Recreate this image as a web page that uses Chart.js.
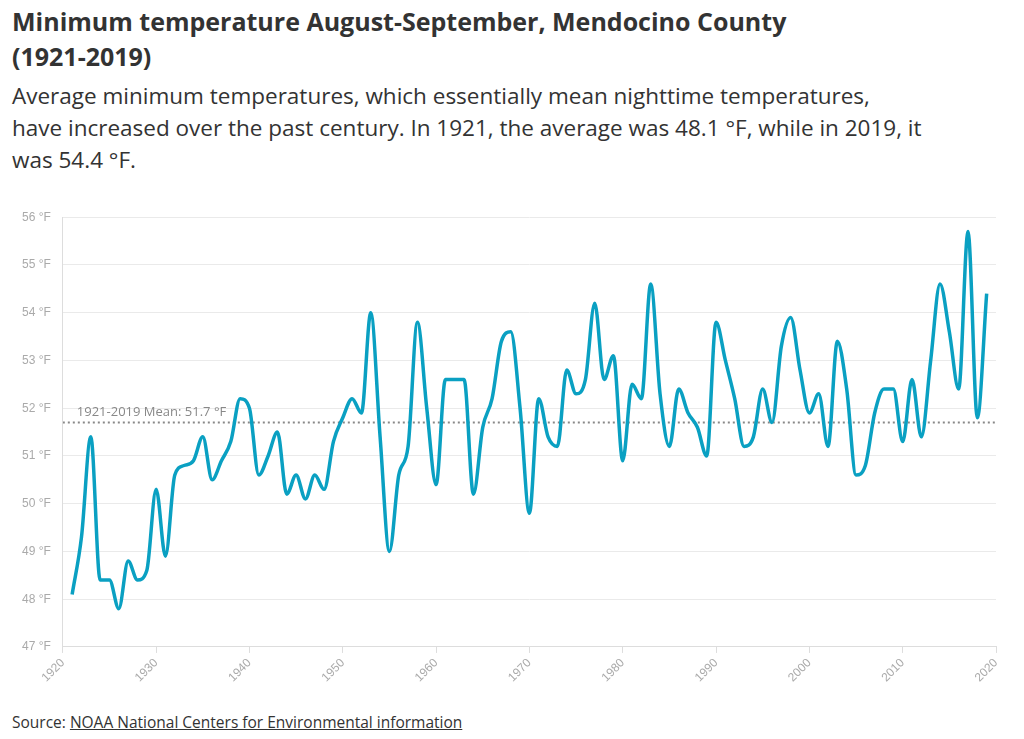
<!DOCTYPE html>
<html>
<head>
<meta charset="utf-8">
<script src="https://cdn.jsdelivr.net/npm/chart.js@4.4.0/dist/chart.umd.min.js"></script>
<style>
  body { margin: 0; background: #fff; font-family: "Open Sans", "Noto Sans", sans-serif; color: #222; }
  #title { position: absolute; left: 12px; top: 4px; width: 1010px; font-size: 25px; font-weight: bold; line-height: 35px; color: #333; white-space: nowrap; }
  #sub { position: absolute; left: 12px; top: 80px; width: 1010px; font-size: 22.5px; line-height: 32px; color: #333; white-space: nowrap; }
  #wrap { position: absolute; left: 0; top: 198px; width: 1010px; height: 490px; }
  #src { position: absolute; left: 12px; top: 711px; font-size: 15.5px; color: #333; }
  #src span { text-decoration: underline; }
</style>
</head>
<body>
<div id="title">Minimum temperature August-September, Mendocino County<br>(1921-2019)</div>
<div id="sub">Average minimum temperatures, which essentially mean nighttime temperatures,<br>have increased over the past century. In 1921, the average was 48.1 °F, while in 2019, it<br>was 54.4 °F.</div>
<div id="wrap"><canvas id="chart"></canvas></div>
<div id="src">Source: <span>NOAA National Centers for Environmental information</span></div>
<script>
// ── Data ──
const years = [];
for (let y = 1921; y <= 2019; y++) years.push(y);
const minTemps = [
  48.1, 49.3, 51.4, 48.4, 48.4, 47.8, 48.8, 48.4, 48.6, 50.3,
  48.9, 50.6, 50.8, 50.9, 51.4, 50.5, 50.9, 51.3, 52.2, 52.0,
  50.6, 51.0, 51.5, 50.2, 50.6, 50.1, 50.6, 50.3, 51.3, 51.8,
  52.2, 51.9, 54.0, 51.4, 49.0, 50.6, 51.2, 53.8, 52.0, 50.4,
  52.6, 52.6, 52.6, 50.2, 51.6, 52.2, 53.4, 53.6, 52.0, 49.8,
  52.2, 51.4, 51.2, 52.8, 52.3, 52.6, 54.2, 52.6, 53.1, 50.9,
  52.5, 52.2, 54.6, 52.3, 51.2, 52.4, 51.9, 51.6, 51.0, 53.8,
  53.0, 52.2, 51.2, 51.4, 52.4, 51.7, 53.3, 53.9, 52.8, 51.9,
  52.3, 51.2, 53.4, 52.4, 50.6, 50.8, 51.9, 52.4, 52.4, 51.3,
  52.6, 51.4, 53.0, 54.6, 53.6, 52.4, 55.7, 51.8, 54.4
];
const meanValue = 51.7;
const meanLabel = '1921-2019 Mean: 51.7 °F';
const xTicks = [1920, 1930, 1940, 1950, 1960, 1970, 1980, 1990, 2000, 2010, 2020];
const yMin = 47, yMax = 56;

const tickColor = '#aaa';

// mean label plugin
const meanText = {
  id: 'meanText',
  afterDatasetsDraw(chart) {
    const { ctx, scales } = chart;
    ctx.save();
    ctx.font = '13px "Open Sans", sans-serif';
    ctx.fillStyle = '#888';
    ctx.textBaseline = 'bottom';
    ctx.fillText(meanLabel, scales.x.getPixelForValue(1921.5), scales.y.getPixelForValue(meanValue) - 4);
    ctx.restore();
  }
};

new Chart(document.getElementById('chart'), {
  type: 'line',
  data: {
    datasets: [{
      data: years.map((y, i) => ({ x: y, y: minTemps[i] })),
      borderColor: '#0aa0c2',
      borderWidth: 3.5,
      pointRadius: 0,
      cubicInterpolationMode: 'monotone'
    }, {
      data: [{ x: 1920, y: meanValue }, { x: 2020, y: meanValue }],
      borderColor: '#888',
      borderWidth: 2,
      borderDash: [2, 3],
      pointRadius: 0
    }]
  },
  options: {
    responsive: true,
    maintainAspectRatio: false,
    animation: false,
    layout: { padding: { left: 10, right: 14, top: 8 } },
    plugins: { legend: { display: false }, tooltip: { enabled: false } },
    scales: {
      x: {
        type: 'linear', min: 1920, max: 2020,
        afterBuildTicks: axis => { axis.ticks = xTicks.map(v => ({ value: v })); },
        ticks: { color: tickColor, maxRotation: 45, minRotation: 45, font: { size: 12 }, callback: v => String(v) },
        grid: { drawOnChartArea: false, color: '#ddd', tickLength: 6 },
        border: { color: '#ddd' }
      },
      y: {
        min: yMin, max: yMax,
        ticks: { stepSize: 1, color: tickColor, padding: 12, font: { size: 12 }, callback: v => v + ' °F' },
        grid: { color: '#eaeaea', drawTicks: false },
        border: { display: true, color: '#ddd' }
      }
    }
  },
  plugins: [meanText]
});
</script>
</body>
</html>
